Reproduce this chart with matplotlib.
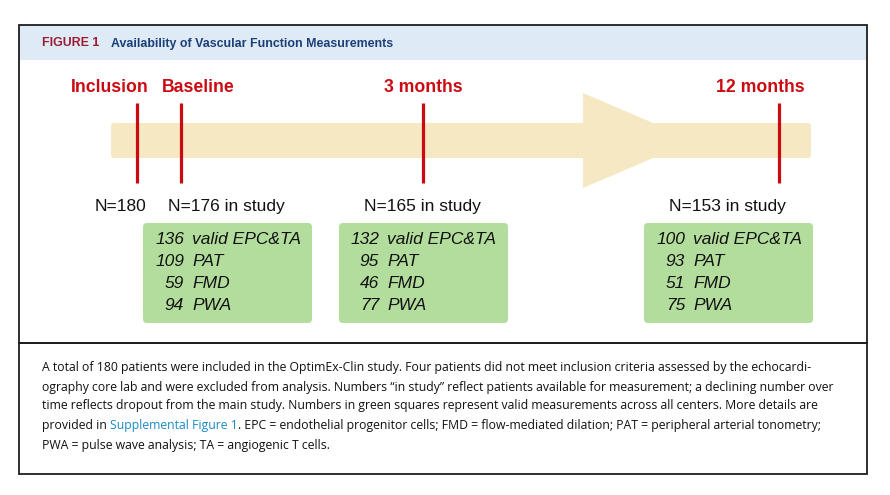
import matplotlib.pyplot as plt
from matplotlib.patches import Rectangle, FancyBboxPatch, Polygon

# data
events = ['Inclusion', 'Baseline', '3 months', '12 months']
n_labels = ['N=180', 'N=176 in study', 'N=165 in study', 'N=153 in study']
measures = ['valid EPC&TA', 'PAT', 'FMD', 'PWA']
counts_baseline = [136, 109, 59, 94]
counts_3m = [132, 95, 46, 77]
counts_12m = [100, 93, 51, 75]

title_tag = 'FIGURE 1'
title = 'Availability of Vascular Function Measurements'
caption_lines = [
    'A total of 180 patients were included in the OptimEx-Clin study. Four patients did not meet inclusion criteria assessed by the echocardi-',
    'ography core lab and were excluded from analysis. Numbers \u201cin study\u201d reflect patients available for measurement; a declining number over',
    'time reflects dropout from the main study. Numbers in green squares represent valid measurements across all centers. More details are',
    ['provided in ', 'Supplemental Figure 1', '. EPC = endothelial progenitor cells; FMD = flow-mediated dilation; PAT = peripheral arterial tonometry;'],
    'PWA = pulse wave analysis; TA = angiogenic T cells.',
]

# layout (pixels)
event_x = [137, 181, 423, 779]
label_x = [110, 198, 423, 760]
n_x = [121, 226, 422, 727]
box_x = [143, 339, 644]
num_right = [184, 379, 685]
row_y = [240, 262, 284, 306]

RED = '#cc0a12'
font = 'Liberation Sans'

fig = plt.figure(figsize=(8.9, 4.95), dpi=100)
ax = fig.add_axes([0, 0, 1, 1])
ax.set_xlim(0, 890)
ax.set_ylim(495, 0)
ax.axis('off')
r = fig.canvas.get_renderer()


def fit(t, target):
    w = t.get_window_extent(r).width
    t.set_fontsize(t.get_fontsize() * target / w)


# frames
ax.add_patch(Rectangle((19, 25), 848, 35, facecolor='#deeaf6', edgecolor='none', zorder=0))
ax.add_patch(Rectangle((19, 25), 848, 318, facecolor='none', edgecolor='#1e1e1e', lw=1.3, zorder=5))
ax.add_patch(Rectangle((19, 343), 848, 131, facecolor='none', edgecolor='#1e1e1e', lw=1.3, zorder=5))

t = ax.text(42, 43.5, title_tag, color='#9e1b32', fontsize=8.5, fontweight='bold',
            family=font, va='center', ha='left')
fit(t, 57)
t = ax.text(111, 43.5, title, color='#1c3f77', fontsize=8.5, fontweight='bold',
            family=font, va='center', ha='left')
fit(t, 281)

# timeline arrow
band = '#f5e8c2'
ax.add_patch(FancyBboxPatch((111, 123), 700, 35, boxstyle='round,pad=0,rounding_size=3',
                            facecolor=band, edgecolor='none', zorder=1))
ax.add_patch(Polygon([(583, 93), (583, 188), (694, 140.5)], closed=True,
                     facecolor=band, edgecolor='none', zorder=1))

for i, ev in enumerate(events):
    ax.plot([event_x[i], event_x[i]], [103, 183], color=RED, lw=2.3, solid_capstyle='butt', zorder=3)
    ax.text(label_x[i], 87, ev, color=RED, fontsize=12.7, fontweight='bold', family=font,
            ha='center', va='center')
    ax.text(n_x[i], 211, n_labels[i], color='#111111', fontsize=12.5, family=font,
            ha='center', va='baseline')

# green boxes
for j, counts in enumerate([counts_baseline, counts_3m, counts_12m]):
    ax.add_patch(FancyBboxPatch((box_x[j], 223), 169, 100, boxstyle='round,pad=0,rounding_size=4',
                                facecolor='#b3dd9c', edgecolor='none', zorder=1))
    for k, m in enumerate(measures):
        ax.text(num_right[j], row_y[k], str(counts[k]), fontsize=12.5, style='italic', family=font,
                color='#111111', ha='right', va='center')
        ax.text(num_right[j] + 8, row_y[k], m, fontsize=12.5, style='italic', family=font,
                color='#111111', ha='left', va='center')

# caption
cap_font = ['Open Sans', 'DejaVu Sans']
cap_y = [367, 387, 406, 426, 446]
probe = ax.text(42, cap_y[1], caption_lines[1], fontsize=9, family=cap_font, va='center')
fit(probe, 799)
cap_size = probe.get_fontsize()
probe.remove()


def width(s):
    tt = ax.text(0, 0, s + 'x', fontsize=cap_size, family=cap_font)
    tx = ax.text(0, 0, 'x', fontsize=cap_size, family=cap_font)
    w = tt.get_window_extent(r).width - tx.get_window_extent(r).width
    tt.remove()
    tx.remove()
    return w


for i, line in enumerate(caption_lines):
    if isinstance(line, list):
        x = 42
        for p, part in enumerate(line):
            ax.text(x, cap_y[i], part, fontsize=cap_size, family=cap_font, va='center',
                    color='#1a8bc4' if p == 1 else '#111111')
            x += width(part)
    else:
        ax.text(42, cap_y[i], line, fontsize=cap_size, family=cap_font, va='center', color='#111111')

fig.savefig('out.png', dpi=100)
